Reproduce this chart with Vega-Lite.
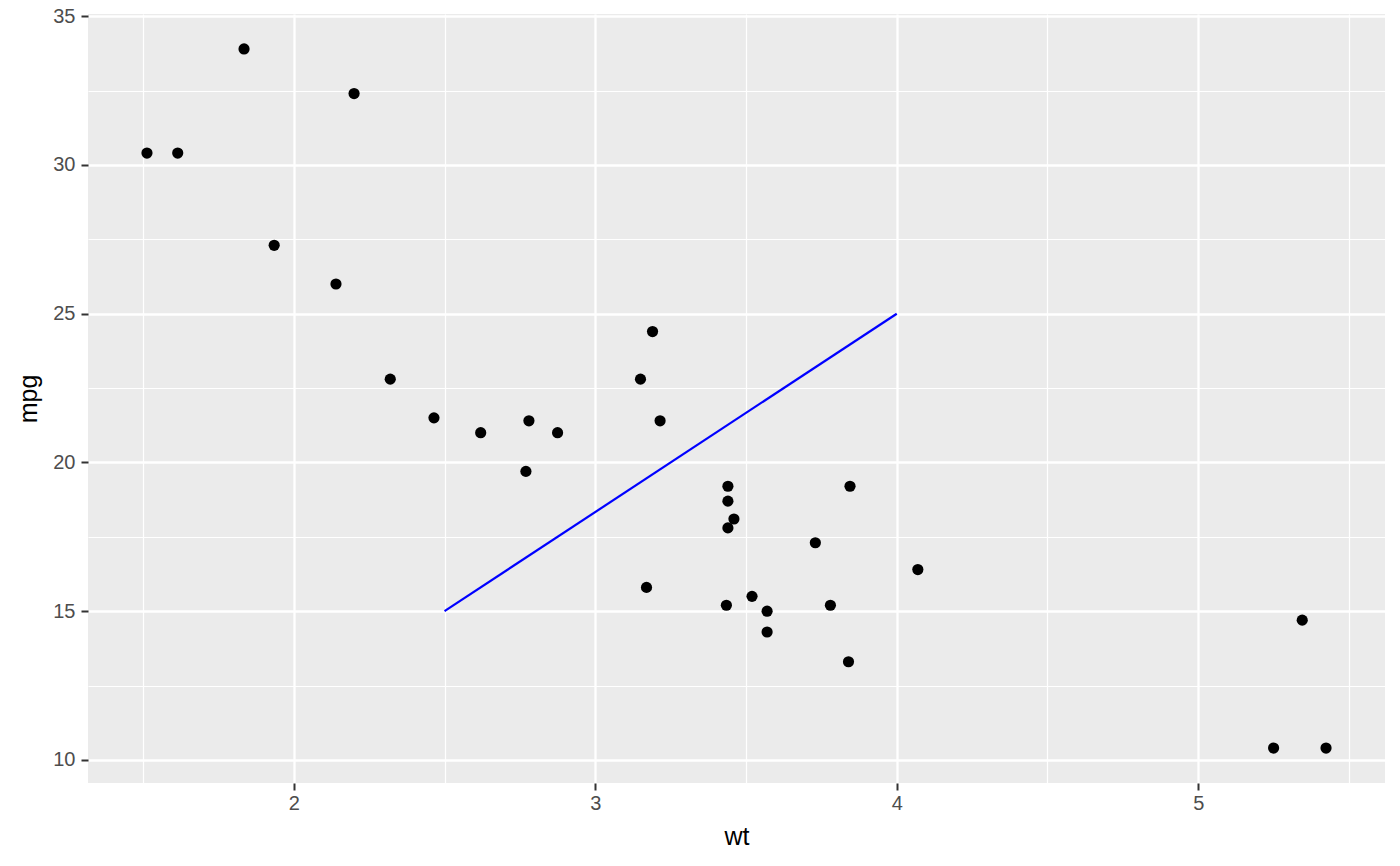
{
  "$schema": "https://vega.github.io/schema/vega-lite/v6.json",
  "width": 1297,
  "height": 769,
  "autosize": {"type": "none"},
  "padding": {"left": 88, "top": 14, "right": 15, "bottom": 83},
  "background": "white",
  "view": {"fill": "#EBEBEB", "stroke": null},
  "config": {
    "font": "Liberation Sans",
    "axis": {
      "labelFont": "Liberation Sans",
      "titleFont": "Liberation Sans",
      "labelColor": "#4D4D4D",
      "labelFontSize": 20,
      "titleFontSize": 25,
      "titleFontWeight": "normal",
      "titleColor": "#000000",
      "tickColor": "#333333",
      "tickWidth": 2,
      "tickSize": 7,
      "domain": false,
      "gridColor": "#FFFFFF",
      "gridOpacity": 1
    }
  },
  "datasets": {
    "cars": [
      {"wt": 2.620, "mpg": 21.0},
      {"wt": 2.875, "mpg": 21.0},
      {"wt": 2.320, "mpg": 22.8},
      {"wt": 3.215, "mpg": 21.4},
      {"wt": 3.440, "mpg": 18.7},
      {"wt": 3.460, "mpg": 18.1},
      {"wt": 3.570, "mpg": 14.3},
      {"wt": 3.190, "mpg": 24.4},
      {"wt": 3.150, "mpg": 22.8},
      {"wt": 3.440, "mpg": 19.2},
      {"wt": 3.440, "mpg": 17.8},
      {"wt": 4.070, "mpg": 16.4},
      {"wt": 3.730, "mpg": 17.3},
      {"wt": 3.780, "mpg": 15.2},
      {"wt": 5.250, "mpg": 10.4},
      {"wt": 5.424, "mpg": 10.4},
      {"wt": 5.345, "mpg": 14.7},
      {"wt": 2.200, "mpg": 32.4},
      {"wt": 1.615, "mpg": 30.4},
      {"wt": 1.835, "mpg": 33.9},
      {"wt": 2.465, "mpg": 21.5},
      {"wt": 3.520, "mpg": 15.5},
      {"wt": 3.435, "mpg": 15.2},
      {"wt": 3.840, "mpg": 13.3},
      {"wt": 3.845, "mpg": 19.2},
      {"wt": 1.935, "mpg": 27.3},
      {"wt": 2.140, "mpg": 26.0},
      {"wt": 1.513, "mpg": 30.4},
      {"wt": 3.170, "mpg": 15.8},
      {"wt": 2.770, "mpg": 19.7},
      {"wt": 3.570, "mpg": 15.0},
      {"wt": 2.780, "mpg": 21.4}
    ],
    "seg": [
      {"x": 2.5, "y": 15, "x2": 4, "y2": 25}
    ]
  },
  "layer": [
    {
      "data": {"name": "cars"},
      "mark": {"type": "point", "opacity": 0},
      "encoding": {
        "x": {"field": "wt", "type": "quantitative", "scale": {"domain": [1.31745, 5.61955], "nice": false, "zero": false},
          "axis": {"orient": "top", "grid": true, "values": [1.5, 2.5, 3.5, 4.5, 5.5], "labels": false, "ticks": false, "title": null, "gridWidth": 1.2}},
        "y": {"field": "mpg", "type": "quantitative", "scale": {"domain": [9.225, 35.075], "nice": false, "zero": false},
          "axis": {"orient": "right", "grid": true, "values": [12.5, 17.5, 22.5, 27.5, 32.5], "labels": false, "ticks": false, "title": null, "gridWidth": 1.2}}
      }
    },
    {
      "data": {"name": "cars"},
      "mark": {"type": "circle", "color": "#000000", "opacity": 1, "size": 125},
      "encoding": {
        "x": {"field": "wt", "type": "quantitative",
          "axis": {"orient": "bottom", "grid": true, "values": [2, 3, 4, 5], "title": "wt", "gridWidth": 2.3, "labelPadding": 3, "titlePadding": 11}},
        "y": {"field": "mpg", "type": "quantitative",
          "axis": {"orient": "left", "grid": true, "values": [10, 15, 20, 25, 30, 35], "title": "mpg", "gridWidth": 2.3, "labelPadding": 6, "titlePadding": 11}}
      }
    },
    {
      "data": {"name": "seg"},
      "mark": {"type": "rule", "color": "#0000FF", "strokeWidth": 2.2},
      "encoding": {
        "x": {"field": "x", "type": "quantitative", "axis": null},
        "y": {"field": "y", "type": "quantitative", "axis": null},
        "x2": {"field": "x2"},
        "y2": {"field": "y2"}
      }
    }
  ],
  "resolve": {"axis": {"x": "independent", "y": "independent"}}
}
